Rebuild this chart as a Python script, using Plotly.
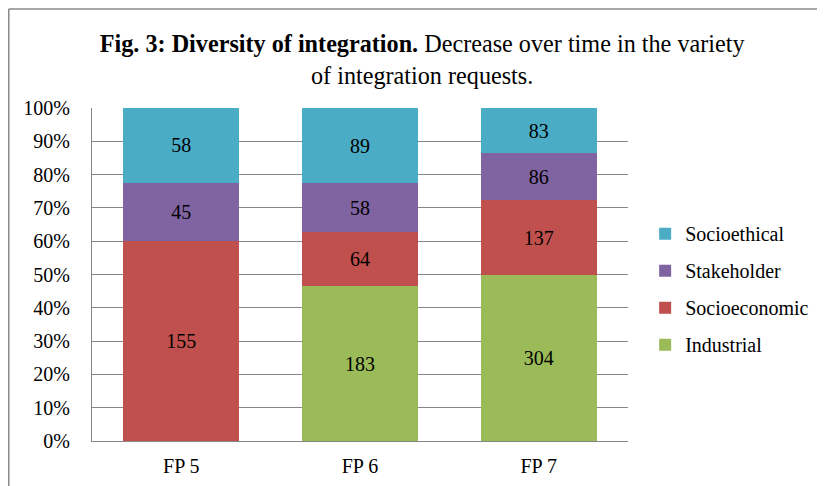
import plotly.graph_objects as go

# Counts per framework programme
programmes = ["FP 5", "FP 6", "FP 7"]
industrial = [0, 183, 304]
socioeconomic = [155, 64, 137]
stakeholder = [45, 58, 86]
socioethical = [58, 89, 83]

series = [
    ("Industrial", industrial, "#9BBB59", 4),
    ("Socioeconomic", socioeconomic, "#C0504D", 3),
    ("Stakeholder", stakeholder, "#8064A2", 2),
    ("Socioethical", socioethical, "#4BACC6", 1),
]

FONT = "Liberation Serif, Times New Roman, serif"

fig = go.Figure()
for name, vals, color, rank in series:
    fig.add_trace(go.Bar(x=programmes, y=vals, name=name,
                         marker=dict(color=color, line=dict(width=0)),
                         text=[str(v) if v else "" for v in vals],
                         textposition="inside", insidetextanchor="middle",
                         textfont=dict(family=FONT, size=20, color="black"),
                         legendgroup=name, legendrank=rank))

fig.update_layout(
    barmode="stack", barnorm="percent", bargap=0.35,
    width=825, height=486,
    margin=dict(l=84, r=205, t=100, b=53),
    paper_bgcolor="white", plot_bgcolor="white",
    font=dict(family=FONT, size=20, color="black"),
    title=dict(text="<b>Fig. 3: Diversity of integration.</b> Decrease over time in the variety"
                    "<br>of integration requests.",
               x=0.502, xanchor="center", y=0.909, yanchor="middle",
               font=dict(family=FONT, size=24.2, color="black")),
    legend=dict(traceorder="grouped", tracegroupgap=8,
                x=1.032, xanchor="left", y=0.456, yanchor="middle",
                font=dict(family=FONT, size=20), itemwidth=30),
    showlegend=True,
)
fig.update_yaxes(range=[0, 100], dtick=10, ticksuffix="%", showgrid=True,
                 gridcolor="#868686", gridwidth=1, showline=True, linecolor="#868686",
                 ticks="", zeroline=False, tickfont=dict(size=20), ticklabelstandoff=17)
fig.update_xaxes(showline=True, linecolor="#868686", ticks="", tickfont=dict(size=20),
                 ticklabelstandoff=7)

# outer chart frame
fig.add_shape(type="line", xref="paper", yref="paper", x0=-0.1553, x1=1.4, y0=1.297, y1=1.297,
              line=dict(color="#888888", width=1.5))
fig.add_shape(type="line", xref="paper", yref="paper", x0=-0.1553, x1=-0.1553, y0=1.297, y1=-0.2,
              line=dict(color="#888888", width=1.5))

fig.write_html("out.html")
